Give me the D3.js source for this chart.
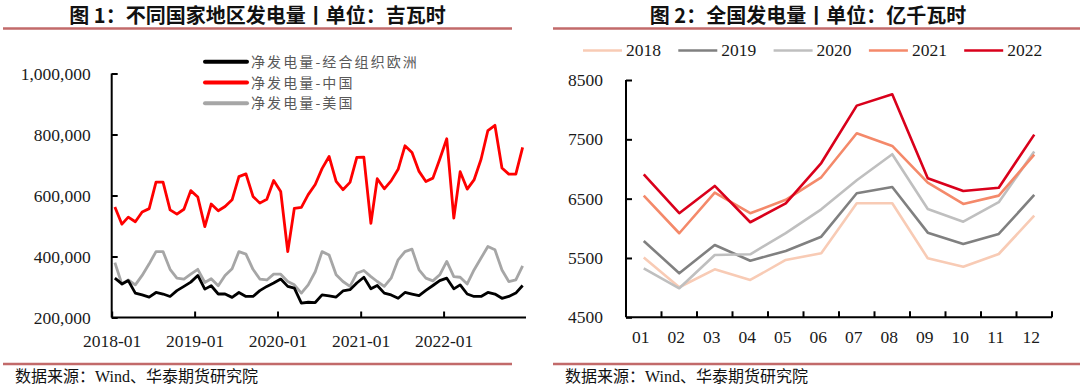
<!DOCTYPE html>
<html><head><meta charset="utf-8">
<script src="https://cdn.jsdelivr.net/npm/d3@7"></script>
<style>
html,body{margin:0;padding:0;background:#fff;}
svg{display:block;}
</style></head>
<body>
<svg id="c" width="1080" height="392"></svg>
<script>
// ---------- Chart 1 data (GWh) ----------
const leftTitle = "图 1：不同国家地区发电量丨单位：吉瓦时";
const rightTitle = "图 2：全国发电量丨单位：亿千瓦时";
const sourceText = "数据来源：Wind、华泰期货研究院";
const leftSeriesNames = ["净发电量-经合组织欧洲", "净发电量-中国", "净发电量-美国"];
const leftYTicks = [200000, 400000, 600000, 800000, 1000000];
const leftXTickLabels = ["2018-01", "2019-01", "2020-01", "2021-01", "2022-01"];
const monthsLeft = d3.timeMonth.range(new Date(2018, 0, 1), new Date(2023, 0, 1)).map(d => d3.timeFormat("%Y-%m")(d));

const oecdEurope = [329000,310000,321000,280000,274000,267000,282000,277000,269000,288000,302000,316000,
  338000,293000,304000,277000,277000,266000,282000,269000,269000,288000,302000,313000,
  326000,302000,296000,247000,250000,249000,274000,271000,267000,287000,291000,313000,
  332000,294000,305000,280000,274000,263000,282000,277000,272000,289000,305000,321000,
  329000,294000,307000,277000,269000,269000,282000,277000,263000,269000,280000,305000];
const china = [562000,506000,529000,514000,546000,557000,644000,644000,553000,539000,555000,616000,
  595000,498000,572000,550000,564000,586000,662000,671000,597000,575000,588000,649000,
  613000,416000,558000,561000,603000,636000,688000,728000,646000,619000,643000,725000,
  726000,509000,655000,622000,648000,686000,763000,741000,679000,646000,657000,719000,
  786000,526000,678000,621000,651000,719000,813000,830000,690000,670000,670000,758000];
const usa = [380000,309000,323000,307000,338000,376000,416000,416000,358000,329000,326000,342000,
  358000,315000,327000,304000,338000,360000,416000,408000,358000,326000,323000,342000,
  342000,318000,307000,280000,307000,350000,416000,405000,340000,318000,302000,345000,
  354000,334000,318000,302000,329000,389000,416000,424000,356000,329000,320000,340000,
  384000,334000,332000,310000,356000,395000,433000,422000,356000,318000,323000,369000];

// ---------- Chart 2 data (100 million kWh) ----------
const monthsRight = ["01","02","03","04","05","06","07","08","09","10","11","12"];
const yearNames = ["2018","2019","2020","2021","2022"];
const rightYTicks = [4500, 5500, 6500, 7500, 8500];
const gen2018 = [5510,5006,5309,5129,5466,5579,6422,6422,5495,5353,5567,6213];
const gen2019 = [5787,5242,5719,5454,5618,5859,6591,6697,5927,5736,5905,6562];
const gen2020 = [5326,4989,5551,5562,5920,6320,6810,7249,6326,6112,6440,7293];
const gen2021 = [6551,5917,6601,6254,6480,6860,7603,7389,6770,6411,6551,7242];
const gen2022 = [6911,6254,6714,6102,6422,7100,8068,8260,6844,6630,6685,7579];

const svg = d3.select("#c");
const ruleColor = "#c26a6a";
const serif = "'Liberation Serif','Times New Roman',serif";
const cjk = "'Noto Sans CJK SC','Noto Sans',sans-serif";

// ---------- Titles, rules, footers ----------
function header(cx, x1, x2, text) {
  svg.append("text").attr("x", cx).attr("y", 23).attr("text-anchor", "middle")
    .attr("font-family", cjk).attr("font-weight", "bold").attr("font-size", 20).attr("fill", "#111").text(text);
  svg.append("line").attr("x1", x1).attr("x2", x2).attr("y1", 28.5).attr("y2", 28.5)
    .attr("stroke", ruleColor).attr("stroke-width", 2.5);
}
header(257.5, 3, 512, leftTitle);
header(808, 553, 1080, rightTitle);
function footer(x, x1, x2) {
  svg.append("line").attr("x1", x1).attr("x2", x2).attr("y1", 364).attr("y2", 364)
    .attr("stroke", ruleColor).attr("stroke-width", 2.5);
  svg.append("text").attr("x", x).attr("y", 382).attr("font-family", serif + ",'Noto Sans CJK SC'")
    .attr("font-size", 16).attr("fill", "#111").text(sourceText);
}
footer(15, 3, 512);
footer(565, 553, 1080);

// ---------- Left chart ----------
const parse = d3.timeParse("%Y-%m");
const xL = d3.scaleTime().domain([new Date(2018, 0, 1), new Date(2023, 0, 1)]).range([111.7, 526.5]);
const yL = d3.scaleLinear().domain([200000, 1000000]).range([317.5, 73.5]);
const midMonth = s => { const d = parse(s); return new Date(d.getFullYear(), d.getMonth(), 15); };

const gL = svg.append("g");
const yAxisL = d3.axisLeft(yL).tickValues(leftYTicks).tickFormat(d3.format(",")).tickSize(-6).tickPadding(21);
const yg = gL.append("g").attr("transform", "translate(111.7,0)").call(yAxisL);
const xAxisL = d3.axisBottom(xL).tickValues(leftXTickLabels.map(parse)).tickFormat(d3.timeFormat("%Y-%m")).tickSize(-6).tickPadding(16);
const xg = gL.append("g").attr("transform", "translate(0,317.5)").call(xAxisL);
[yg, xg].forEach(g => {
  g.select(".domain").attr("stroke", "#000").attr("stroke-width", 2);
  g.selectAll(".tick line").attr("stroke", "#000").attr("stroke-width", 2);
  g.selectAll(".tick text").attr("font-family", serif).attr("font-size", 17.5).attr("fill", "#1a1a1a");
});
yg.select(".domain").attr("d", "M0,317.5V73.5");
xg.select(".domain").attr("d", "M111.7,0H526");
xg.selectAll(".tick text").attr("y", 29.5).attr("dy", 0);

const lineL = d3.line().x((d, i) => xL(midMonth(monthsLeft[i]))).y(d => yL(d));
const leftSeries = [
  {name: leftSeriesNames[2], data: usa, color: "#a6a6a6"},
  {name: leftSeriesNames[0], data: oecdEurope, color: "#000000"},
  {name: leftSeriesNames[1], data: china, color: "#ff0000"}
];
leftSeries.forEach(s => {
  gL.append("path").datum(s.data).attr("d", lineL).attr("fill", "none")
    .attr("stroke", s.color).attr("stroke-width", 2.8).attr("stroke-linejoin", "round");
});
const legL = [
  {name: leftSeriesNames[0], color: "#000000"},
  {name: leftSeriesNames[1], color: "#ff0000"},
  {name: leftSeriesNames[2], color: "#a6a6a6"}
];
legL.forEach((s, i) => {
  const y = 61.7 + i * 20.8;
  gL.append("line").attr("x1", 205).attr("x2", 247).attr("y1", y).attr("y2", y)
    .attr("stroke", s.color).attr("stroke-width", 4).attr("stroke-linecap", "round");
  gL.append("text").attr("x", 251).attr("y", y + 5).attr("font-family", cjk).attr("font-size", 14)
    .attr("letter-spacing", 2.1).attr("fill", "#595959").text(s.name);
});

// ---------- Right chart ----------
const xR = d3.scaleBand().domain(monthsRight).range([626, 1052]).padding(0);
const yR = d3.scaleLinear().domain([4500, 8500]).range([317.3, 80]);
const gR = svg.append("g");
const yAxisR = d3.axisLeft(yR).tickValues(rightYTicks).tickFormat(d3.format("d")).tickSize(-6).tickPadding(23);
const ygR = gR.append("g").attr("transform", "translate(626,0)").call(yAxisR);
const xAxisR = d3.axisBottom(xR).tickSize(0);
const xgR = gR.append("g").attr("transform", "translate(0,317.3)").call(xAxisR);
// band boundary ticks
gR.append("g").selectAll("line").data(monthsRight).join("line")
  .attr("x1", d => xR(d) + xR.bandwidth()).attr("x2", d => xR(d) + xR.bandwidth())
  .attr("y1", 317.3).attr("y2", 311.3).attr("stroke", "#000").attr("stroke-width", 2);
[ygR, xgR].forEach(g => {
  g.select(".domain").attr("stroke", "#000").attr("stroke-width", 2);
  g.selectAll(".tick line").attr("stroke", "#000").attr("stroke-width", 2);
  g.selectAll(".tick text").attr("font-family", serif).attr("font-size", 17.5).attr("fill", "#1a1a1a");
});
ygR.select(".domain").attr("d", "M0,317.3V80");
xgR.select(".domain").attr("d", "M626,0H1052");
xgR.selectAll(".tick text").attr("y", 26).attr("dy", 0).attr("dx", -3);

const rightSeries = [
  {name: yearNames[0], data: gen2018, color: "#f8cbb5"},
  {name: yearNames[1], data: gen2019, color: "#808080"},
  {name: yearNames[2], data: gen2020, color: "#bfbfbf"},
  {name: yearNames[3], data: gen2021, color: "#f4896a"},
  {name: yearNames[4], data: gen2022, color: "#d9001b"}
];
const lineR = d3.line().x((d, i) => xR(monthsRight[i]) + xR.bandwidth() / 2).y(d => yR(d));
rightSeries.forEach(s => {
  gR.append("path").datum(s.data).attr("d", lineR).attr("fill", "none")
    .attr("stroke", s.color).attr("stroke-width", 2.6).attr("stroke-linejoin", "round");
});
rightSeries.forEach((s, i) => {
  const x = 583 + i * 95.3, y = 50.5;
  gR.append("line").attr("x1", x).attr("x2", x + 39).attr("y1", y).attr("y2", y)
    .attr("stroke", s.color).attr("stroke-width", 2.6);
  gR.append("text").attr("x", x + 43).attr("y", y + 5.5).attr("font-family", serif).attr("font-size", 17.5)
    .attr("fill", "#1a1a1a").text(s.name);
});
</script>
</body></html>
